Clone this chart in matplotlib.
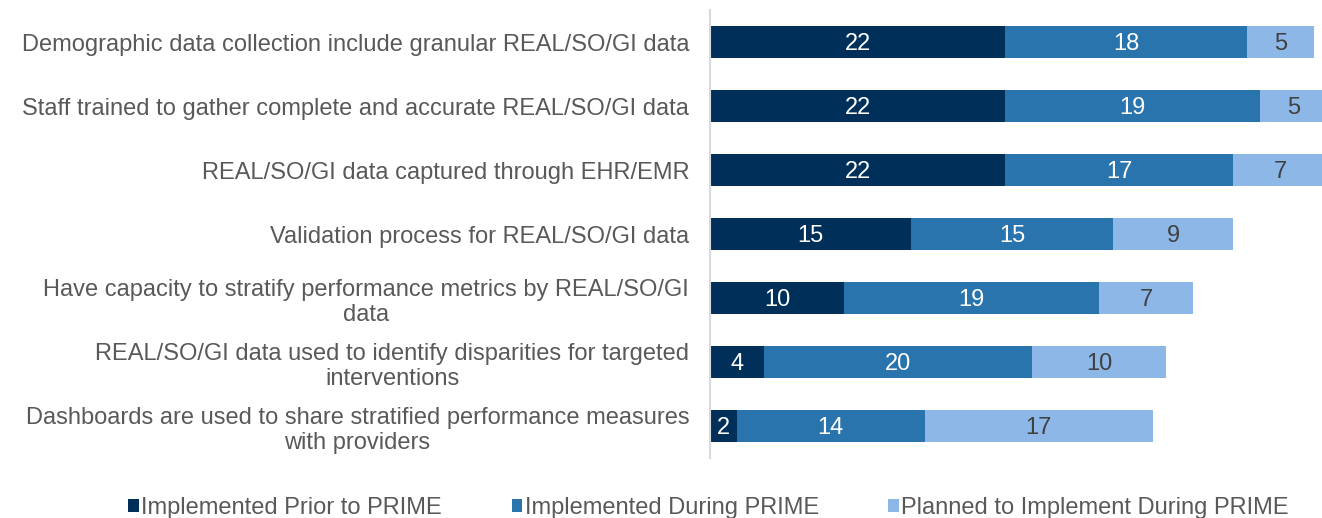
import numpy as np
import matplotlib.pyplot as plt

plt.rcParams['font.family'] = ['Liberation Sans', 'DejaVu Sans']

# Data
categories = [
    "Demographic data collection include granular REAL/SO/GI data",
    "Staff trained to gather complete and accurate REAL/SO/GI data",
    "REAL/SO/GI data captured through EHR/EMR",
    "Validation process for REAL/SO/GI data",
    "Have capacity to stratify performance metrics by REAL/SO/GI\ndata",
    "REAL/SO/GI data used to identify disparities for targeted\ninterventions",
    "Dashboards are used to share stratified performance measures\nwith providers",
]
prior = [22, 22, 22, 15, 10, 4, 2]
during = [18, 19, 17, 15, 19, 20, 14]
planned = [5, 5, 7, 9, 7, 10, 17]
series_names = ["Implemented Prior to PRIME", "Implemented During PRIME",
                "Planned to Implement During PRIME"]

colors = ["#00305A", "#2A74AE", "#8CB7E7"]
text_colors = ["white", "white", "#404040"]

fig = plt.figure(figsize=(13.22, 5.18), dpi=100)
ax = fig.add_axes([710 / 1322, 1 - 458 / 518, 1 - 710 / 1322, 448 / 518])

y = np.arange(len(categories))
left = np.zeros(len(categories))
for vals, col, tcol, name in zip([prior, during, planned], colors, text_colors, series_names):
    vals = np.array(vals)
    ax.barh(y, vals, left=left, height=0.5, color=col, label=name)
    for yi, l, v in zip(y, left, vals):
        ax.text(l + v / 2, yi + 0.03, str(v), ha='center', va='center',
                color=tcol, fontsize=17)
    left += vals

ax.set_ylim(len(categories) - 0.5, -0.5)
ax.set_xlim(0, 45.6)
ax.set_yticks(y)
ax.set_yticklabels(categories, fontsize=17, color='#595959',
                   multialignment='center', linespacing=1.2)
ax.tick_params(axis='y', length=0, pad=15)
ax.set_xticks([])
for s in ['top', 'right', 'bottom']:
    ax.spines[s].set_visible(False)
ax.spines['left'].set_color('#D9D9D9')
ax.spines['left'].set_linewidth(1.5)

handles, labels = ax.get_legend_handles_labels()
fig.legend(handles, labels, loc='center', bbox_to_anchor=(0.536, 1 - 508 / 518),
           ncol=3, frameon=False, fontsize=17, labelcolor='#595959',
           handlelength=0.45, handleheight=0.45, handletextpad=0.1,
           columnspacing=2.95)

fig.savefig('out.png', dpi=100)
